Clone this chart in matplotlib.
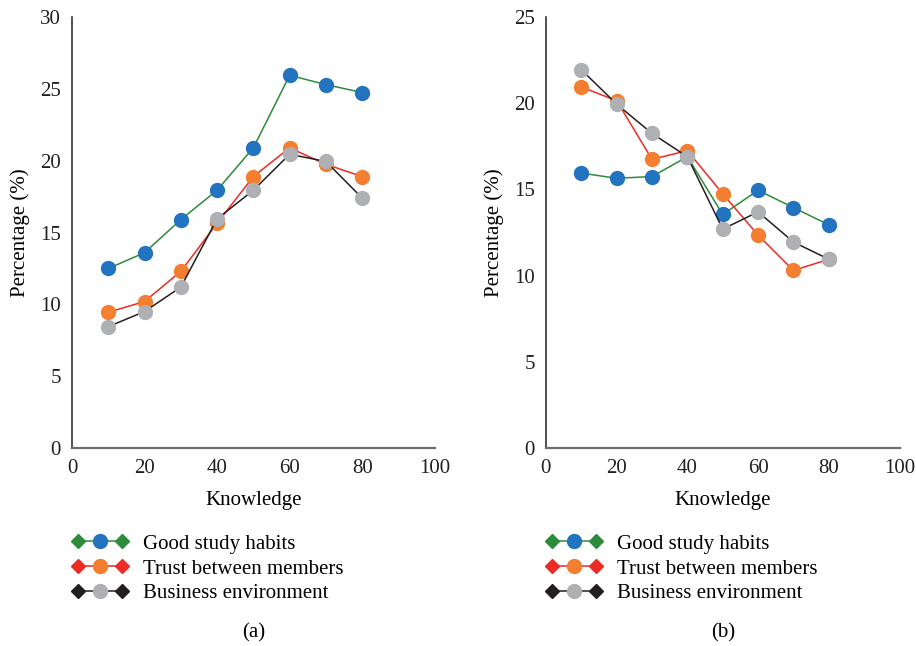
import matplotlib
matplotlib.use("Agg")
import matplotlib.pyplot as plt
from matplotlib.lines import Line2D
from matplotlib.legend_handler import HandlerLine2D, HandlerTuple

plt.rcParams['font.family'] = ['Liberation Serif', 'DejaVu Serif']

knowledge = [10, 20, 30, 40, 50, 60, 70, 80]

# panel (a)
habits_a = [12.5, 13.6, 15.9, 17.95, 20.9, 25.95, 25.3, 24.75]
trust_a = [9.45, 10.2, 12.3, 15.65, 18.9, 20.9, 19.75, 18.9]
business_a = [8.45, 9.5, 11.2, 15.95, 17.95, 20.45, 19.95, 17.4]

# panel (b)
habits_b = [15.95, 15.65, 15.75, 16.9, 13.55, 14.95, 13.95, 12.95]
trust_b = [20.95, 20.15, 16.75, 17.25, 14.75, 12.35, 10.3, 10.95]
business_b = [21.95, 19.95, 18.25, 16.9, 12.7, 13.7, 11.95, 10.95]

labels = ["Good study habits", "Trust between members", "Business environment"]
line_colors = ["#2e8b3a", "#ee2a24", "#231f20"]
dot_colors = ["#2273c0", "#f47f30", "#afb0b3"]

fig = plt.figure(figsize=(9.16, 6.46), dpi=100)
ax1 = fig.add_axes([0.0786, 0.3065, 0.396, 0.667])
ax2 = fig.add_axes([0.596, 0.3065, 0.386, 0.667])

FS = 15


def draw_panel(ax, series, ymax, caption):
    for ys, lc, dc in zip(series, line_colors, dot_colors):
        ax.plot(knowledge, ys, color=lc, lw=1.1, marker='o', ms=10,
                mfc=dc, mec=dc, zorder=3)
    ax.set_xlim(0, 100)
    ax.set_ylim(0, ymax)
    ax.set_xticks(range(0, 101, 20))
    ax.set_yticks(range(0, ymax + 1, 5))
    ax.tick_params(length=0, labelsize=FS, pad=8, colors="#231f20")
    for s in ("top", "right"):
        ax.spines[s].set_visible(False)
    ax.spines["left"].set_color("#231f20")
    ax.spines["left"].set_linewidth(1.1)
    ax.spines["bottom"].set_color("#6d6e71")
    ax.spines["bottom"].set_linewidth(1.6)
    ax.set_xlabel("Knowledge", fontsize=FS, labelpad=9)
    ax.set_ylabel("Percentage (%)", fontsize=FS, labelpad=7)

    # legend: diamond-ended line with a circle in the middle
    handles = []
    hmap = {}
    for lc, dc in zip(line_colors, dot_colors):
        ends = Line2D([], [], color=lc, lw=1.1, marker='D', ms=7, mfc=lc, mec=lc)
        dot = Line2D([], [], ls='none', marker='o', ms=10, mfc=dc, mec=dc)
        hmap[dot] = HandlerLine2D(numpoints=1)
        handles.append((ends, dot))
    hmap[tuple] = HandlerTuple(ndivide=1, pad=0)
    ax.legend(handles, labels, handler_map=hmap, loc="upper left",
              bbox_to_anchor=(0.0, -0.2), frameon=False, fontsize=FS,
              numpoints=2, handlelength=2.7, handletextpad=0.7,
              labelspacing=0.25, borderpad=0, borderaxespad=0)
    ax.text(0.5, -0.43, caption, transform=ax.transAxes, ha="center",
            va="center", fontsize=FS)


draw_panel(ax1, [habits_a, trust_a, business_a], 30, "(a)")
draw_panel(ax2, [habits_b, trust_b, business_b], 25, "(b)")

fig.savefig("out.png", dpi=100)
